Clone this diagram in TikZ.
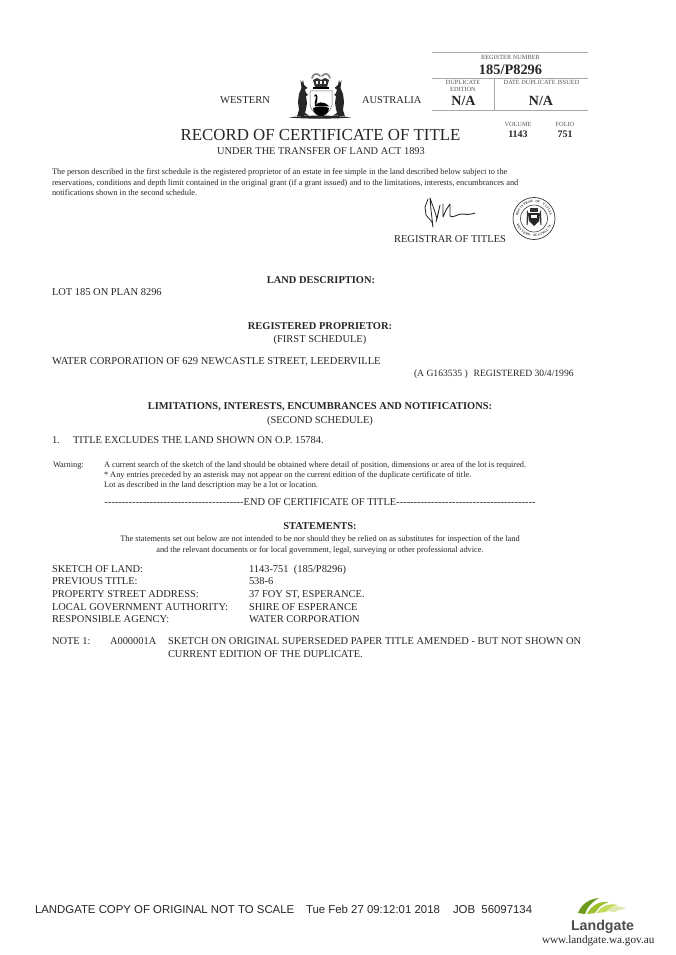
\documentclass[tikz,border=0pt]{standalone}
\usepackage{fontspec}
\setmainfont{Liberation Serif}
\setsansfont{Liberation Sans}
\newfontfamily\plainserif{Liberation Serif}
\newcommand{\fs}[1]{\fontsize{#1}{#1}\selectfont}
\definecolor{ink}{HTML}{262626}
\definecolor{soft}{HTML}{555555}
\definecolor{rule}{HTML}{A8A8A8}
\definecolor{leafa}{HTML}{6E9A1E}
\definecolor{leafb}{HTML}{9CBF2E}
\definecolor{leafc}{HTML}{C5DB5C}
\definecolor{leafd}{HTML}{E0EAB0}
\newcommand{\roo}{%
  \fill[crest] (300.5,80) -- (302,83) -- (303,80) -- (304,85) -- (307.5,88) -- (305,89.5) -- (306,93) -- (308,95) -- (306,96) -- (307,103) -- (306,109) -- (305,113) -- (309,115.5) -- (299,116) -- (297,116.5) -- (299,110) -- (298,102) -- (299,94) -- (301.5,88) -- cycle;}
\tikzset{
  base/.style={inner sep=0pt,outer sep=0pt,text=ink},
  lt/.style={base,anchor=base west},
  ct/.style={base,anchor=base},
  sz/.style={font=\fs{#1}},
  tiny/.style={base,anchor=base,text=soft,font=\fs{6.3}},
  tick/.style={draw=rule,line width=0.8pt},
  crest/.style={fill=black!85,draw=none},
  seal/.style={base,text=black!85,font=\fs{3.2}\bfseries},
}
\begin{document}
\begin{tikzpicture}[x=1pt,y=-1pt]
\useasboundingbox[fill=white] (0,0) rectangle (675,955);
% register table
\coordinate (tl) at (432,52.7); \coordinate (tr) at (588,52.7);
\coordinate (ml) at (432,78.7); \coordinate (mr) at (588,78.7);
\coordinate (bl) at (432,110); \coordinate (br) at (588,110);
\coordinate (vt) at (494,78.7); \coordinate (vb) at (494,110);
\draw[tick] (tl) -- (tr);
\draw[tick] (ml) -- (mr);
\draw[tick] (bl) -- (br);
\draw[tick] (vt) -- (vb);
\node[tiny] (regnum) at (510.5,59.5) {REGISTER NUMBER};
\node[ct,font=\fs{14.4}\bfseries] (regval) at (510.5,75) {185/P8296};
\node[tiny] (dup1) at (463,85) {DUPLICATE};
\node[tiny] (dup2) at (463,92) {EDITION};
\node[tiny] (dateiss) at (541.5,85) {DATE DUPLICATE ISSUED};
\node[ct,font=\fs{14}\bfseries] (na1) at (463.5,106) {N/A};
\node[ct,font=\fs{14}\bfseries] (na2) at (541,106) {N/A};
\node[tiny] (vol) at (518,127) {VOLUME};
\node[tiny] (fol) at (565,127) {FOLIO};
\node[ct,font=\fs{10}\bfseries] (volv) at (518,137) {1143};
\node[ct,font=\fs{10}\bfseries] (folv) at (565,137) {751};
% headings
\node[lt,sz=10.6] (west) at (220,103) {WESTERN};
\node[lt,sz=10.5] (aus) at (362,103) {AUSTRALIA};
\node[ct,sz=16.85] (title) at (320.5,140) {RECORD OF CERTIFICATE OF TITLE};
\node[ct,sz=10.35] (act) at (321,154) {UNDER THE TRANSFER OF LAND ACT 1893};
% crest
\fill[crest] (289,117.5) .. controls (305,115) and (335,115) .. (351,117.5) .. controls (335,119) and (305,119) .. (289,117.5) -- cycle;
\roo
\begin{scope}[cm={-1,0,0,1,(642,0)}]
\roo
\end{scope}
% crown
\draw[black!50,line width=1.6pt,line cap=round] (312,78) .. controls (313,73) and (318,73) .. (320,76);
\draw[black!50,line width=1.6pt,line cap=round] (330,78) .. controls (329,73) and (324,73) .. (322,76);
\fill[black!80] (313,80) -- (317,78) -- (321,80) -- (325,78) -- (329,80) -- (327,87) -- (315,87) -- cycle;
\fill[white] (316,81) rectangle (318,84);
\fill[white] (320,81) rectangle (322,84);
\fill[white] (324,81) rectangle (326,84);
\fill[black] (313,87) rectangle (329,89);
% shield
\draw[black!60,line width=0.5pt] (310,91) -- (332,91) -- (332,105) .. controls (331,111) and (325,115) .. (321,117) .. controls (317,115) and (311,111) .. (310,105) -- cycle;
\fill[black] (313,108) .. controls (318,106) and (325,106) .. (329,108) .. controls (329,113) and (325,115.5) .. (321,116.5) .. controls (317,115.5) and (313,113) .. (313,108) -- cycle;
\fill[black] (316,106) .. controls (316.5,102) and (318,100) .. (317.5,97) .. controls (317,93.5) and (314.5,93.5) .. (314,96.5) -- (315.3,96.5) .. controls (315.6,95.3) and (316.2,95.5) .. (316,97.5) .. controls (315,100) and (314.5,103) .. (315,106) -- cycle;
\fill[black] (315,106.5) .. controls (316,102) and (324,100) .. (329,106.5) -- cycle;
% paragraph
\node[lt,sz=8.35] (p1) at (52,174) {The person described in the first schedule is the registered proprietor of an estate in fee simple in the land described below subject to the};
\node[lt,sz=8.35] (p2) at (52,185) {reservations, conditions and depth limit contained in the original grant (if a grant issued) and to the limitations, interests, encumbrances and};
\node[lt,sz=8.35] (p3) at (52,195) {notifications shown in the second schedule.};
% signature
\draw[black!85,line width=0.8pt,line join=round,line cap=round] (428,199) -- (425,207) -- (426,215) -- (432,222) -- (433,227) -- (431,210) -- (430,198) -- (435,212) -- (437,219) -- (440,205) -- (436,222);
\draw[black!85,line width=0.9pt,line join=round,line cap=round] (443,204) -- (443,217) -- (446,210) -- (450,204) -- (450,216) .. controls (453,219) and (458,213) .. (463,214) .. controls (468,215) and (472,214) .. (475,213);
\node[lt,sz=10.5] (registrar) at (394,242) {REGISTRAR OF TITLES};
% seal
\draw[black!80,line width=0.7pt] (534,218.5) circle (21);
\draw[black!75,line width=0.6pt] (534,218.5) circle (13.5);
\fill[black!85] (529,213) -- (539,213) -- (539,221) -- (534,226) -- (529,221) -- cycle;
\fill[white] (531,214.5) rectangle (537,218);
\fill[black!80] (527,210) -- (529,214) -- (527.5,225) -- (526.5,225) -- cycle;
\fill[black!80] (541,210) -- (539,214) -- (540.5,225) -- (541.5,225) -- cycle;
\fill[black!80] (530,208) rectangle (538,212);
\foreach \i/\c in {0/R,1/E,2/G,3/I,4/S,5/T,6/R,7/A,8/R,10/O,11/F,13/T,14/I,15/T,16/L,17/E,18/S} {
  \pgfmathsetmacro{\ang}{166-\i*8.5}
  \pgfmathsetmacro{\px}{534+17.3*cos(\ang)}
  \pgfmathsetmacro{\py}{218.5-17.3*sin(\ang)}
  \node[seal,rotate=\ang-90] (st\i) at (\px,\py) {\c};
}
\foreach \i/\c in {0/W,1/E,2/S,3/T,4/E,5/R,6/N,8/A,9/U,10/S,11/T,12/R,13/A,14/L,15/I,16/A} {
  \pgfmathsetmacro{\ang}{204+\i*8.25}
  \pgfmathsetmacro{\px}{534+17.3*cos(\ang)}
  \pgfmathsetmacro{\py}{218.5-17.3*sin(\ang)}
  \node[seal,rotate=\ang+90] (su\i) at (\px,\py) {\c};
}
% body
\node[ct,font=\fs{10.45}\bfseries] (landh) at (321,283) {LAND DESCRIPTION:};
\node[lt,sz=10.45] (lot) at (52,295) {LOT 185 ON PLAN 8296};
\node[ct,font=\fs{10.45}\bfseries] (proph) at (320,329) {REGISTERED PROPRIETOR:};
\node[ct,sz=10.45] (first) at (320,342) {(FIRST SCHEDULE)};
\node[lt,sz=10.55] (water) at (52,364) {WATER CORPORATION OF 629 NEWCASTLE STREET, LEEDERVILLE};
\node[lt,sz=9.6] (reg) at (414,376) {(A G163535 )\hspace{0.6em}REGISTERED 30/4/1996};
\node[ct,font=\fs{10.45}\bfseries] (limh) at (320,409) {LIMITATIONS, INTERESTS, ENCUMBRANCES AND NOTIFICATIONS:};
\node[ct,sz=10.45] (second) at (320,423) {(SECOND SCHEDULE)};
\node[lt,sz=10.45] (one) at (52,443) {1.};
\node[lt,sz=10.45] (excl) at (73,443) {TITLE EXCLUDES THE LAND SHOWN ON O.P. 15784.};
\node[lt,sz=8.33] (warn) at (53,467) {Warning:};
\node[lt,sz=8.33] (w1) at (104,467) {A current search of the sketch of the land should be obtained where detail of position, dimensions or area of the lot is required.};
\node[lt,sz=8.33] (w2) at (104,477) {* Any entries preceded by an asterisk may not appear on the current edition of the duplicate certificate of title.};
\node[lt,sz=8.33] (w3) at (104,487) {Lot as described in the land description may be a lot or location.};
\node[ct,font=\plainserif\fs{10.45}] (end) at (320,505) {----------------------------------------END OF CERTIFICATE OF TITLE----------------------------------------};
\node[ct,font=\fs{10.45}\bfseries] (stath) at (320,529) {STATEMENTS:};
\node[ct,sz=8.35] (s1) at (320,541) {The statements set out below are not intended to be nor should they be relied on as substitutes for inspection of the land};
\node[ct,sz=8.35] (s2) at (320,552) {and the relevant documents or for local government, legal, surveying or other professional advice.};
\node[lt,sz=10.45] (a1) at (52,572) {SKETCH OF LAND:};
\node[lt,sz=10.45] (a2) at (52,584) {PREVIOUS TITLE:};
\node[lt,sz=10.45] (a3) at (52,597) {PROPERTY STREET ADDRESS:};
\node[lt,sz=10.45] (a4) at (52,610) {LOCAL GOVERNMENT AUTHORITY:};
\node[lt,sz=10.45] (a5) at (52,622) {RESPONSIBLE AGENCY:};
\node[lt,sz=10.45] (b1) at (249,572) {1143-751\hspace{0.5em}(185/P8296)};
\node[lt,sz=10.45] (b2) at (249,584) {538-6};
\node[lt,sz=10.45] (b3) at (249,597) {37 FOY ST, ESPERANCE.};
\node[lt,sz=10.45] (b4) at (249,610) {SHIRE OF ESPERANCE};
\node[lt,sz=10.45] (b5) at (249,622) {WATER CORPORATION};
\node[lt,sz=10.45] (note) at (52,644) {NOTE 1:};
\node[lt,sz=10.45] (anum) at (110,644) {A000001A};
\node[lt,sz=10.45] (n1) at (168,644) {SKETCH ON ORIGINAL SUPERSEDED PAPER TITLE AMENDED - BUT NOT SHOWN ON};
\node[lt,sz=10.45] (n2) at (168,657) {CURRENT EDITION OF THE DUPLICATE.};
% footer
\node[lt,font=\sffamily\fs{11.4}] (f1) at (35,913) {LANDGATE COPY OF ORIGINAL NOT TO SCALE};
\node[lt,font=\sffamily\fs{11.4}] (f2) at (306,913) {Tue Feb 27 09:12:01 2018};
\node[lt,font=\sffamily\fs{11.4}] (f3) at (453,913) {JOB\hspace{0.55em}56097134};
% logo
\fill[leafd] (606,911) .. controls (610,906) and (615,905) .. (626,908) .. controls (622,910) and (617,910) .. (615,912) -- cycle;
\fill[leafc] (597,913) .. controls (601,906) and (608,903) .. (618,905) .. controls (612,906) and (608,909) .. (606,912) -- cycle;
\fill[leafb] (587,914) .. controls (591,906) and (598,901) .. (609,902) .. controls (602,904) and (598,908) .. (595,913) -- cycle;
\fill[leafa] (578,913) .. controls (581,905) and (588,899) .. (599,898) .. controls (592,902) and (587,907) .. (585,914) -- cycle;
\node[lt,font=\sffamily\bfseries\fs{14.2},text=black!70] (lg) at (571,930) {Landgate};
\node[lt,sz=11.2] (url) at (542,943.5) {www.landgate.wa.gov.au};
\end{tikzpicture}
\end{document}
